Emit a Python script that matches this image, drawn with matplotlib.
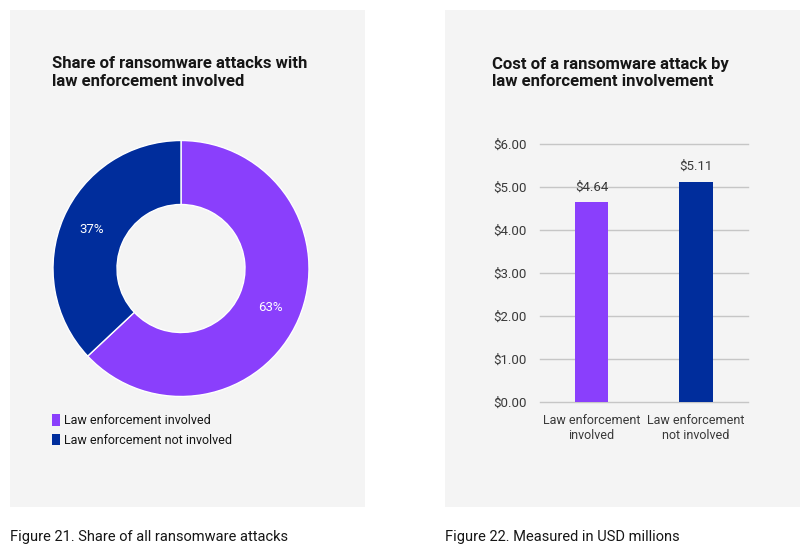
import matplotlib
matplotlib.use('Agg')
from matplotlib import pyplot as plt
from matplotlib.patches import Rectangle, Patch

# data
share_labels = ['Law enforcement involved', 'Law enforcement not involved']
share_values = [63, 37]
cost_labels = ['Law enforcement\ninvolved', 'Law enforcement\nnot involved']
cost_values = [4.64, 5.11]
cost_ticks = [0, 1, 2, 3, 4, 5, 6]

colors = ['#8a3ffc', '#002d9c']
bg = '#f4f4f4'
W, H = 807, 552
narrow = ['Roboto', 'DejaVu Sans']
plain = ['Roboto', 'DejaVu Sans']


def rect(x0, y0, x1, y1):
    # pixel box (top-left origin) -> figure fraction
    return [x0 / W, 1 - y1 / H, (x1 - x0) / W, (y1 - y0) / H]


fig = plt.figure(figsize=(W / 100, H / 100), dpi=100)
fig.patch.set_facecolor('white')

# grey panels
for x0 in (10, 445):
    r = rect(x0, 10, x0 + 355, 507)
    fig.patches.append(Rectangle((r[0], r[1]), r[2], r[3], transform=fig.transFigure,
                                 facecolor=bg, edgecolor='none', zorder=-5))

# titles
fig.text(52 / W, 1 - 56.5 / H, 'Share of ransomware attacks with\nlaw enforcement involved',
         family=plain, fontsize=12, weight='bold', color='#161616', va='top', ha='left',
         linespacing=1.25)
fig.text(492 / W, 1 - 56.5 / H, 'Cost of a ransomware attack by\nlaw enforcement involvement',
         family=plain, fontsize=12, weight='bold', color='#161616', va='top', ha='left',
         linespacing=1.25)

# captions
fig.text(10 / W, 1 - 537 / H, 'Figure 21. Share of all ransomware attacks', family=narrow,
         fontsize=10.5, color='#161616', va='center', ha='left')
fig.text(445 / W, 1 - 537 / H, 'Figure 22. Measured in USD millions', family=narrow,
         fontsize=10.5, color='#161616', va='center', ha='left')

# 1. donut
ax1 = fig.add_axes(rect(53, 140.5, 309, 396.5))
ax1.set_facecolor('none')
wedges, _, autotexts = ax1.pie(share_values, colors=colors, startangle=90, counterclock=False,
                               autopct='%d%%', pctdistance=0.76, radius=1,
                               wedgeprops=dict(width=0.5, edgecolor='white', linewidth=1))
for t in autotexts:
    t.set_color('white')
    t.set_fontsize(9.5)
    t.set_family(plain)
ax1.set_xlim(-1, 1)
ax1.set_ylim(-1, 1)
ax1.set_aspect('equal')
ax1.axis('off')

handles = [Patch(facecolor=c, edgecolor='none') for c in colors]
fig.legend(handles, share_labels, loc='upper left', bbox_to_anchor=(41 / W, 1 - 403 / H),
           frameon=False, handlelength=0.6, handleheight=1.0, handletextpad=0.3,
           labelspacing=0.55, prop=dict(family=narrow, size=9), labelcolor='#161616')

# 2. bars
ax2 = fig.add_axes(rect(539.5, 144, 748, 401.7))
ax2.set_facecolor('none')
x = range(len(cost_values))
bars = ax2.bar(x, cost_values, width=0.32, color=colors, zorder=3)
for b, v in zip(bars, cost_values):
    ax2.annotate('$%.2f' % v, (b.get_x() + b.get_width() / 2, v), xytext=(0, 6.5),
                 textcoords='offset points', ha='center', va='bottom',
                 family=plain, fontsize=9.5, color='#393939')
ax2.set_xlim(-0.5, 1.5)
ax2.set_ylim(0, 6)
ax2.set_yticks(cost_ticks)
ax2.set_yticklabels(['$%.2f' % t for t in cost_ticks], family=plain, fontsize=9.5,
                    color='#393939')
ax2.set_xticks(list(x))
ax2.set_xticklabels(cost_labels, family=narrow, fontsize=9, color='#393939', linespacing=1.15)
ax2.tick_params(axis='y', length=0, pad=9)
ax2.tick_params(axis='x', length=0, pad=9)
ax2.grid(axis='y', color='#c6c6c6', linewidth=1, zorder=0)
ax2.set_axisbelow(True)
for s in ax2.spines.values():
    s.set_visible(False)
for gl in ax2.get_ygridlines():
    gl.set_clip_on(False)

plt.savefig('out.png', dpi=100)
